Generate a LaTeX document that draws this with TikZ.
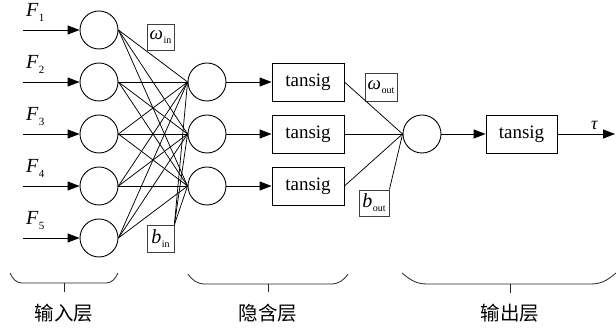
\documentclass[tikz,border=0pt]{standalone}
\usepackage{fontspec}
\setmainfont{Liberation Serif}
\newfontfamily\cjk{Noto Sans CJK SC}
\usetikzlibrary{arrows.meta}

% italic symbol with an upright, lowered subscript
\newcommand\isub[5]{{\fontsize{#1}{#1}\selectfont\itshape #2}\kern0.5pt\raisebox{-#5}{\fontsize{#3}{#3}\selectfont #4}}

\begin{document}
\begin{tikzpicture}[x=1pt,y=-1pt,
  neuron/.style={circle,draw,line width=0.9pt,minimum size=38pt,inner sep=0pt},
  fbox/.style={draw,line width=0.9pt,minimum width=72pt,minimum height=38pt,inner sep=0pt,font=\fontsize{19}{19}\selectfont},
  tag/.style={draw=black!75,line width=0.8pt,inner sep=0pt},
  wire/.style={line width=0.75pt},
  arr/.style={line width=0.9pt,-{Triangle[length=12pt,width=9pt]}},
  brace/.style={line width=0.8pt,black!85},
  layer/.style={font=\cjk\fontsize{19.5}{19.5}\selectfont}]
\useasboundingbox (0,0) rectangle (616,328);

% input layer
\foreach \i/\y in {1/30,2/82,3/134,4/186,5/238} {
  \node[neuron] (i\i) at (99,\y) {};
  \coordinate (s\i) at (23,\y);
  \draw[arr] (s\i) -- (i\i);
  \node[anchor=base west,inner sep=0pt] (f\i) at (26,\y-13) {\isub{20}{F}{11}{\i}{5pt}};
}

% hidden layer with transfer functions
\foreach \j/\y in {1/82,2/134,3/186} {
  \node[neuron] (h\j) at (207,\y) {};
  \node[fbox] (t\j) at (308,\y) {tansig};
  \draw[arr] (h\j) -- (t\j);
}

% full input-to-hidden connections
\foreach \i in {1,...,5} {
  \foreach \j in {1,2,3} {
    \draw[wire] (i\i.east) -- (h\j.west);
  }
}

% weight and bias tags
\node[tag,minimum width=27pt,minimum height=26pt] (win) at (160.5,37) {\isub{19}{ω}{10}{in}{4pt}};
\node[tag,minimum width=27pt,minimum height=27pt] (bin) at (160.5,238.5) {\isub{20}{b}{10}{in}{4pt}};
\foreach \j in {1,2,3} {
  \draw[wire] (bin.north east) -- (h\j.west);
}

% output neuron
\node[neuron] (o) at (422,134) {};
\node[tag,minimum width=32pt,minimum height=28pt] (wout) at (381,87) {\isub{19}{ω}{10}{out}{4pt}};
\node[tag,minimum width=30pt,minimum height=26pt] (bout) at (374,203) {\isub{20}{b}{10}{out}{4pt}};
\foreach \j in {1,2,3} {
  \draw[wire] (t\j.east) -- (o.west);
}
\draw[wire] (bout.north east) -- (o.west);

\node[fbox,minimum width=71pt] (to) at (521.5,134) {tansig};
\draw[arr] (o) -- (to);
\coordinate (end) at (615,134);
\draw[arr] (to) -- node[above=4pt,pos=0.64,inner sep=0pt,font=\fontsize{18}{18}\selectfont\itshape] (tau) {τ} (end);

% layer braces
\draw[brace] (10,273) to[out=-65,in=180] (22,283) -- (106,283) to[out=0,in=-115] (118,273);
\draw[brace] (64,283) -- (64,292);
\node[layer] (l1) at (64,313) {输入层};

\draw[brace] (188,274) to[out=-55,in=180] (205,284) -- (331,284) to[out=0,in=-125] (348,274);
\draw[brace] (268,284) -- (268,292);
\node[layer] (l2) at (268,313) {隐含层};

\draw[brace] (402,273) to[out=-40,in=180] (427,284) -- (591,284) to[out=0,in=-140] (616,273);
\draw[brace] (510,284) -- (510,293);
\node[layer] (l3) at (510,313) {输出层};
\end{tikzpicture}
\end{document}
